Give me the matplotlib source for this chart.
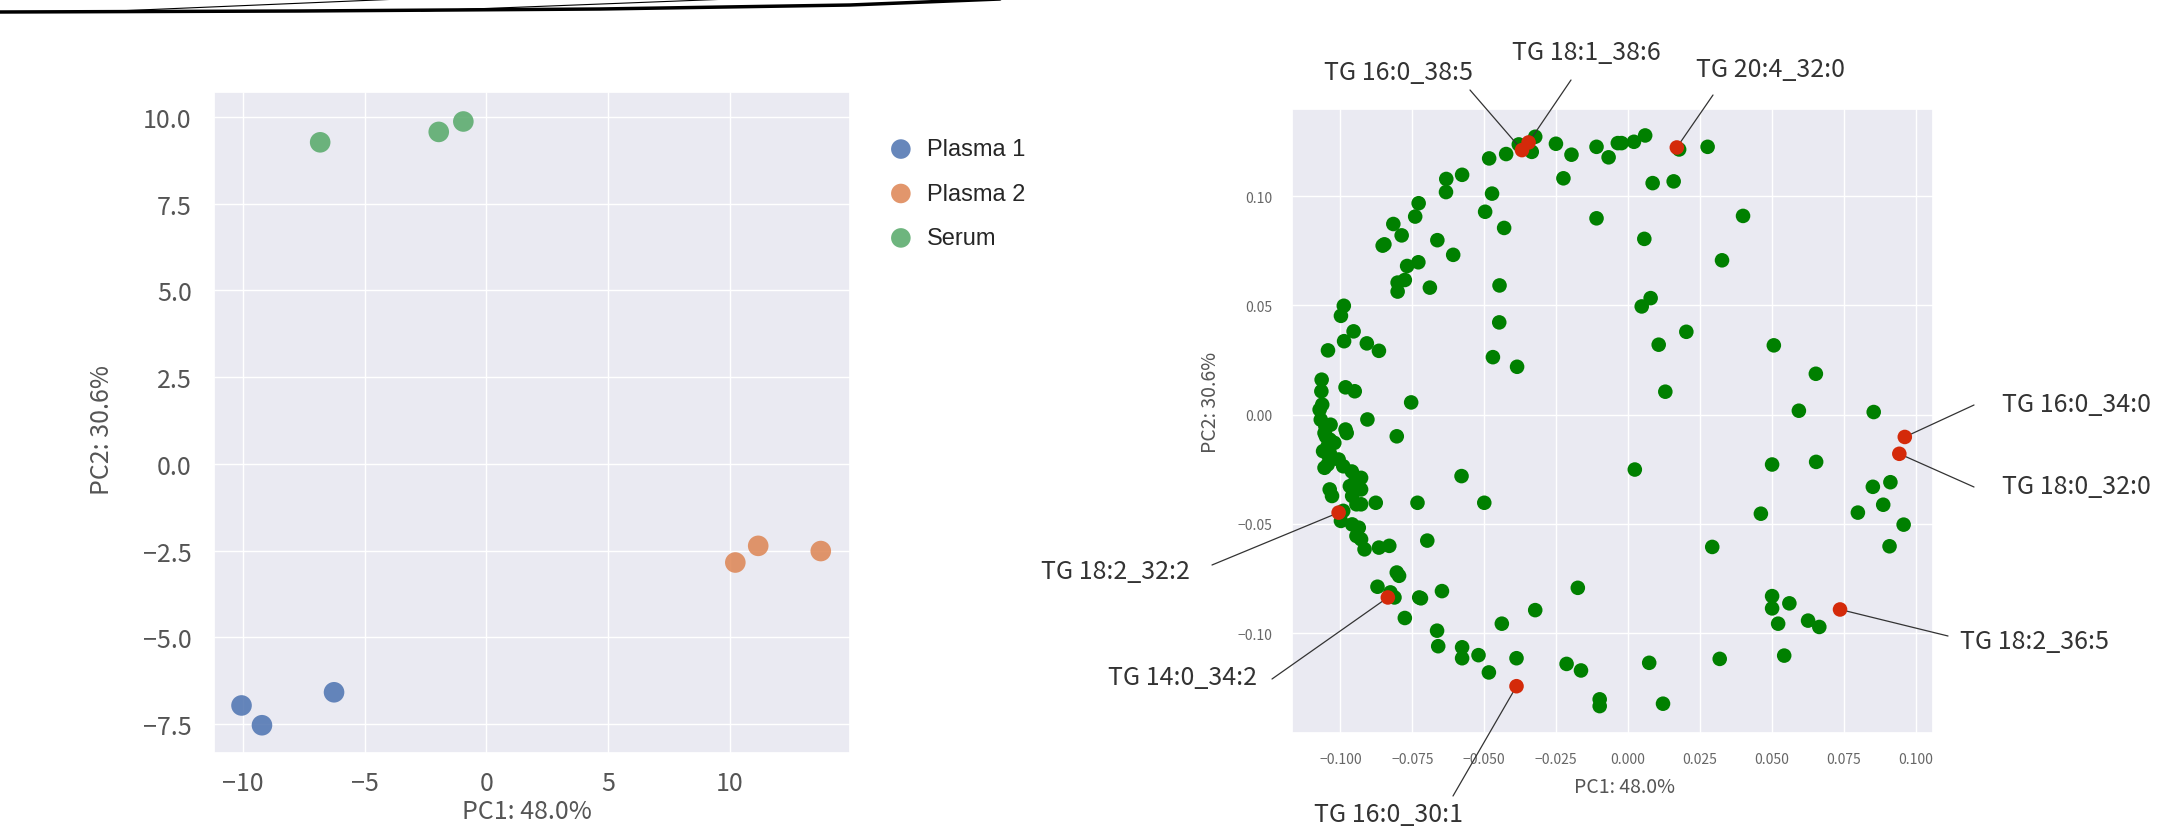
import matplotlib
matplotlib.use("Agg")
import matplotlib.pyplot as plt
import seaborn as sns
from matplotlib.lines import Line2D

# PCA scores (left panel)
groups = ["Plasma 1", "Plasma 2", "Serum"]
score_pc1 = {
    "Plasma 1": [-10.06, -9.22, -6.26],
    "Plasma 2": [10.22, 11.16, 13.73],
    "Serum": [-6.83, -1.96, -0.95],
}
score_pc2 = {
    "Plasma 1": [-6.96, -7.53, -6.58],
    "Plasma 2": [-2.84, -2.36, -2.51],
    "Serum": [9.27, 9.57, 9.87],
}

# PCA loadings (right panel)
load_pc1 = [
    -0.0323, -0.0380, -0.0335, -0.0424, -0.0483, -0.0251, -0.0197, -0.0110, -0.0068, -0.0036,
    -0.0023, 0.0020, 0.0059, 0.0177, 0.0276, -0.0225, 0.0085, 0.0158, -0.0577, -0.0632,
    -0.0633, -0.0473, -0.0728, -0.0740, -0.0497, -0.0816, -0.0787, -0.0431, -0.0110, 0.0399,
    -0.0853, -0.0847, -0.0663, -0.0608, 0.0056, 0.0326, -0.0768, -0.0729, -0.0801, -0.0776,
    -0.0801, -0.0689, -0.0447, 0.0078, 0.0047, -0.0988, -0.0998, -0.0954, -0.0987, -0.0908,
    -0.0866, -0.1043, -0.0448, 0.0202, 0.0106, 0.0506, -0.0470, -0.0386, 0.0652, -0.1065,
    -0.1066, -0.0982, -0.0950, 0.0129, -0.0754, 0.0593, 0.0853, -0.1072, -0.1063, -0.0906,
    -0.1068, -0.1052, -0.1034, -0.0982, -0.0978, -0.0804, -0.1055, -0.1037, -0.1044, -0.1021,
    -0.1060, -0.1037, -0.1006, -0.0990, -0.1055, -0.1044, -0.0928, -0.0951, -0.0967, -0.1037,
    -0.0928, -0.1029, -0.0959, -0.0944, -0.0928, -0.0877, -0.0998, -0.0959, -0.0936, -0.0944,
    -0.0928, -0.0916, -0.0866, -0.0830, -0.0698, -0.0732, -0.0579, -0.0500, 0.0023, 0.0500,
    0.0653, 0.0911, 0.0850, 0.0886, 0.0798, 0.0461, 0.0957, 0.0908, 0.0292, -0.0804,
    -0.0796, -0.0871, -0.0826, -0.0812, -0.0726, -0.0720, -0.0647, -0.0175, -0.0776, -0.0323,
    -0.0439, -0.0664, -0.0660, -0.0577, -0.0577, -0.0520, -0.0484, -0.0388, -0.0214, -0.0164,
    0.0073, 0.0318, -0.0099, -0.0099, 0.0121, 0.0500, 0.0500, 0.0560, 0.0521, 0.0625,
    0.0664, 0.0542, -0.1050, -0.1040, -0.0960, -0.0990,
]
load_pc2 = [
    0.1271, 0.1236, 0.1202, 0.1192, 0.1172, 0.1239, 0.1189, 0.1225, 0.1177, 0.1242,
    0.1242, 0.1248, 0.1277, 0.1213, 0.1225, 0.1081, 0.1059, 0.1067, 0.1097, 0.1078,
    0.1018, 0.1011, 0.0967, 0.0906, 0.0928, 0.0872, 0.0820, 0.0854, 0.0898, 0.0909,
    0.0773, 0.0779, 0.0798, 0.0731, 0.0804, 0.0706, 0.0680, 0.0697, 0.0604, 0.0616,
    0.0563, 0.0581, 0.0591, 0.0533, 0.0495, 0.0498, 0.0452, 0.0381, 0.0336, 0.0326,
    0.0292, 0.0294, 0.0422, 0.0379, 0.0320, 0.0317, 0.0263, 0.0219, 0.0187, 0.0160,
    0.0107, 0.0125, 0.0107, 0.0105, 0.0056, 0.0018, 0.0012, 0.0023, 0.0046, -0.0022,
    -0.0023, -0.0053, -0.0046, -0.0068, -0.0084, -0.0099, -0.0084, -0.0114, -0.0144, -0.0129,
    -0.0167, -0.0175, -0.0205, -0.0236, -0.0243, -0.0228, -0.0289, -0.0312, -0.0327, -0.0342,
    -0.0342, -0.0372, -0.0372, -0.0410, -0.0410, -0.0403, -0.0486, -0.0502, -0.0517, -0.0555,
    -0.0570, -0.0616, -0.0608, -0.0600, -0.0576, -0.0403, -0.0281, -0.0403, -0.0251, -0.0228,
    -0.0216, -0.0309, -0.0330, -0.0412, -0.0448, -0.0453, -0.0503, -0.0602, -0.0605, -0.0722,
    -0.0737, -0.0787, -0.0813, -0.0836, -0.0836, -0.0840, -0.0807, -0.0792, -0.0930, -0.0894,
    -0.0956, -0.0988, -0.1059, -0.1064, -0.1114, -0.1100, -0.1179, -0.1114, -0.1140, -0.1170,
    -0.1135, -0.1117, -0.1302, -0.1333, -0.1322, -0.0830, -0.0886, -0.0863, -0.0956, -0.0942,
    -0.0971, -0.1102, -0.0100, -0.0190, -0.0260, -0.0440,
]

# highlighted lipids
hl_names = ["TG 16:0_38:5", "TG 18:1_38:6", "TG 20:4_32:0", "TG 16:0_34:0", "TG 18:0_32:0",
            "TG 18:2_36:5", "TG 18:2_32:2", "TG 14:0_34:2", "TG 16:0_30:1"]
hl_pc1 = [-0.0369, -0.0346, 0.0169, 0.0961, 0.0942, 0.0736, -0.1006, -0.0835, -0.0388]
hl_pc2 = [0.1210, 0.1245, 0.1222, -0.0102, -0.0179, -0.0891, -0.0448, -0.0836, -0.1242]

# label placement in figure pixels (from top): text centre, line start
W, H = 2176, 828
label_pos = [(1398, 73), (1586, 53), (1771, 70), (2076, 405), (2076, 487),
             (2035, 642), (1115, 572), (1182, 678), (1388, 815)]
line_start = [(1470, 91), (1571, 81), (1713, 96), (1974, 406), (1974, 488),
              (1948, 637), (1212, 566), (1272, 680), (1453, 797)]

sns.set_theme(style="darkgrid")
plt.rcParams["font.family"] = ["Noto Sans CJK JP", "DejaVu Sans"]
palette = sns.color_palette("deep")

fig = plt.figure(figsize=(W / 100, H / 100), dpi=100)

# ---- left: scores
ax1 = fig.add_axes([214 / W, 1 - 754 / H, 636 / W, 661 / H])
for i, g in enumerate(groups):
    ax1.scatter(score_pc1[g], score_pc2[g], s=220, color=palette[i], alpha=0.85,
                edgecolors="none", label=g)
ax1.set_xlim(-11.19, 14.93)
ax1.set_ylim(-8.33, 10.72)
ax1.set_xticks([-10, -5, 0, 5, 10])
ax1.set_yticks([-7.5, -5.0, -2.5, 0.0, 2.5, 5.0, 7.5, 10.0])
ax1.tick_params(axis="both", labelsize=18, labelcolor="#555555", length=0)
ax1.tick_params(axis="x", pad=12)
ax1.tick_params(axis="y", pad=16)
ax1.set_xlabel("PC1: 48.0%", fontsize=18, color="#555555")
ax1.set_ylabel("PC2: 30.6%", fontsize=18, color="#555555")
ax1.xaxis.set_label_coords(0.492, -0.068)
ax1.yaxis.set_label_coords(-0.155, 0.49)
ax1.legend(loc="upper left", bbox_to_anchor=(856 / W, 1 - 118 / H),
           bbox_transform=fig.transFigure, frameon=False, handletextpad=0.1,
           labelspacing=0.95, markerscale=0.95,
           prop={"family": "Liberation Sans", "size": 17})

# ---- right: loadings
ax2 = fig.add_axes([1292 / W, 1 - 734 / H, 641 / W, 624 / H])
ax2.scatter(load_pc1, load_pc2, s=110, color="#008000", edgecolors="none", zorder=3)
ax2.scatter(hl_pc1, hl_pc2, s=110, color="#d42a0a", edgecolors="none", zorder=4)
ax2.set_xlim(-0.1168, 0.1059)
ax2.set_ylim(-0.1456, 0.1398)
ax2.set_xticks([-0.1, -0.075, -0.05, -0.025, 0.0, 0.025, 0.05, 0.075, 0.1])
ax2.set_xticklabels([f"{v:.3f}".replace("-", "\u2212") for v in ax2.get_xticks()])
ax2.set_yticks([-0.10, -0.05, 0.0, 0.05, 0.10])
ax2.set_yticklabels([f"{v:.2f}".replace("-", "\u2212") for v in ax2.get_yticks()])
ax2.tick_params(axis="both", labelsize=10, labelcolor="#666666", length=0)
ax2.tick_params(axis="x", pad=14)
ax2.tick_params(axis="y", pad=14)
ax2.set_xlabel("PC1: 48.0%", fontsize=14, color="#555555")
ax2.set_ylabel("PC2: 30.6%", fontsize=14, color="#555555")
ax2.xaxis.set_label_coords(0.518, -0.069)
ax2.yaxis.set_label_coords(-0.111, 0.532)

for name, px, py, (tx, ty), (lx, ly) in zip(hl_names, hl_pc1, hl_pc2, label_pos, line_start):
    ax2.annotate("", xy=(px, py), xytext=(lx, H - ly), textcoords="figure pixels",
                 arrowprops=dict(arrowstyle="-", color="#333333", lw=0.9,
                                 shrinkA=0, shrinkB=0), annotation_clip=False)
    fig.text(tx / W, 1 - ty / H, name, fontsize=18, color="#333333",
             ha="center", va="center")

# decorative stroke across the top-left
fig.add_artist(Line2D([0, 300 / W, 600 / W, 850 / W, 1000 / W],
                      [1 - 13 / H, 1 - 12 / H, 1 - 10 / H, 1 - 6 / H, 1.0],
                      color="black", lw=2.5, transform=fig.transFigure))
fig.add_artist(Line2D([116 / W, 400 / W], [1 - 12 / H, 1.0], color="black", lw=0.8,
                      transform=fig.transFigure))
fig.add_artist(Line2D([421 / W, 730 / W], [1 - 12 / H, 1.0], color="black", lw=0.8,
                      transform=fig.transFigure))

fig.savefig("out.png", dpi=100)
